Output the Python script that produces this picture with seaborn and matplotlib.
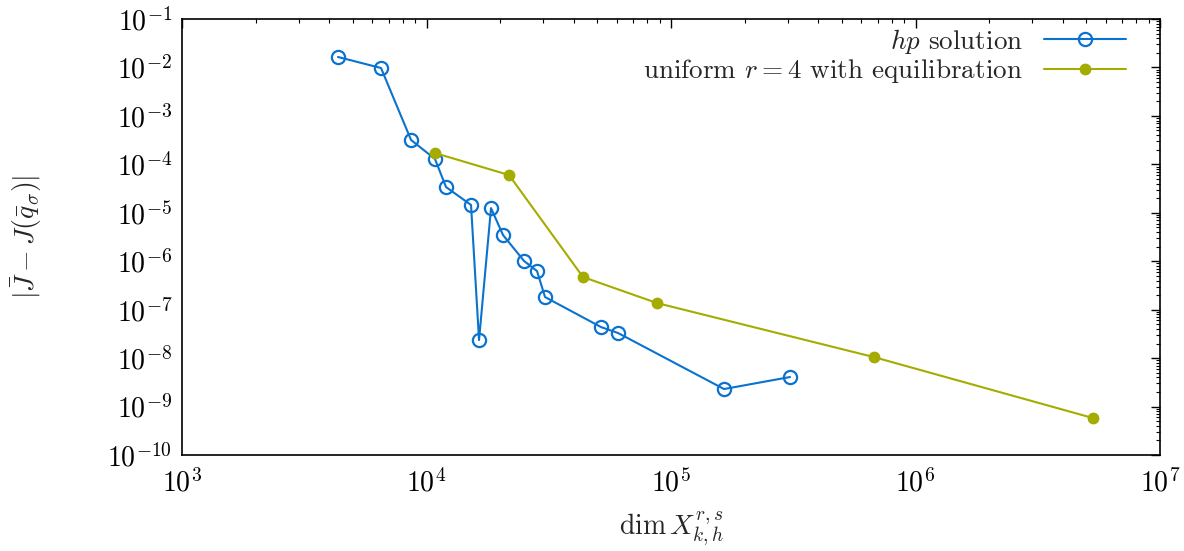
import numpy as np
import pandas as pd
import matplotlib
matplotlib.use("Agg")
import matplotlib.pyplot as plt
import matplotlib.ticker as mticker
import seaborn as sns

# hp-adaptive solution: degrees of freedom vs. functional error
hp_dofs = [4345, 6516, 8646, 10830, 12020, 15210, 16400, 18360, 20560,
           25060, 28310, 30540, 51730, 60700, 164800, 306700]
hp_err = [1.644e-2, 9.74e-3, 3.18e-4, 1.29e-4, 3.40e-5, 1.45e-5, 2.36e-8,
          1.25e-5, 3.47e-6, 1.01e-6, 6.28e-7, 1.82e-7, 4.38e-8, 3.30e-8,
          2.30e-9, 4.07e-9]

# uniform refinement, r = 4, with equilibration
uni_dofs = [10830, 21750, 43650, 87630, 676100, 5.32e6]
uni_err = [1.71e-4, 6.02e-5, 4.72e-7, 1.37e-7, 1.05e-8, 5.79e-10]

label_hp = r"$hp$ solution"
label_uni = r"uniform $r=4$ with equilibration"

sns.set_theme(style="white")
plt.rcParams["font.family"] = ["cmr10", "DejaVu Serif"]
plt.rcParams["mathtext.fontset"] = "cm"
plt.rcParams["axes.formatter.use_mathtext"] = True
plt.rcParams["axes.unicode_minus"] = False

blue = "#0a72cf"
olive = "#a5ac00"

df_hp = pd.DataFrame({"dofs": hp_dofs, "err": hp_err})
df_uni = pd.DataFrame({"dofs": uni_dofs, "err": uni_err})

fig = plt.figure(figsize=(11.84, 5.51), dpi=100)
ax = fig.add_axes([182 / 1184, 1 - 455 / 551, (1160 - 182) / 1184, (455 - 19) / 551])

sns.lineplot(data=df_hp, x="dofs", y="err", ax=ax, sort=False, estimator=None,
             color=blue, linewidth=1.5, marker="o", markersize=9.5,
             markerfacecolor="none", markeredgecolor=blue, markeredgewidth=1.6,
             label=label_hp)
sns.lineplot(data=df_uni, x="dofs", y="err", ax=ax, sort=False, estimator=None,
             color=olive, linewidth=1.5, marker="o", markersize=8.5,
             markerfacecolor=olive, markeredgecolor=olive, markeredgewidth=0,
             label=label_uni)

ax.set_xscale("log")
ax.set_yscale("log")
ax.set_xlim(1e3, 1e7)
ax.set_ylim(1e-10, 1e-1)

ax.xaxis.set_major_locator(mticker.LogLocator(base=10, numticks=20))
ax.yaxis.set_major_locator(mticker.LogLocator(base=10, numticks=20))
ax.xaxis.set_minor_locator(mticker.LogLocator(base=10, subs=np.arange(2, 10), numticks=100))
ax.yaxis.set_minor_locator(mticker.LogLocator(base=10, subs=np.arange(2, 10), numticks=100))
ax.xaxis.set_minor_formatter(mticker.NullFormatter())
ax.yaxis.set_minor_formatter(mticker.NullFormatter())

ax.tick_params(which="both", direction="in", top=True, right=True,
               colors="black", labelsize=20)
ax.tick_params(which="major", length=6.5, width=1.0)
ax.tick_params(axis="x", which="major", pad=10)
ax.tick_params(axis="y", which="major", pad=7)
ax.tick_params(which="minor", length=3.2, width=0.8)

for s in ax.spines.values():
    s.set_color("black")
    s.set_linewidth(1.2)

ax.set_xlabel(r"$\dim X_{k,h}^{r,s}$", fontsize=20, labelpad=8)
ax.set_ylabel(r"$|\bar{J} - J(\bar{q}_\sigma)|$", fontsize=20, labelpad=46)

leg = ax.legend(loc="upper right", bbox_to_anchor=(1127 / 1184 + 0.008, 1 - 16 / 551),
                bbox_transform=fig.transFigure, borderaxespad=0,
                frameon=False, markerfirst=False,
                fontsize=19.5, handlelength=3.0, handletextpad=0.8,
                labelspacing=0.05)

fig.savefig("out.png", dpi=100)
